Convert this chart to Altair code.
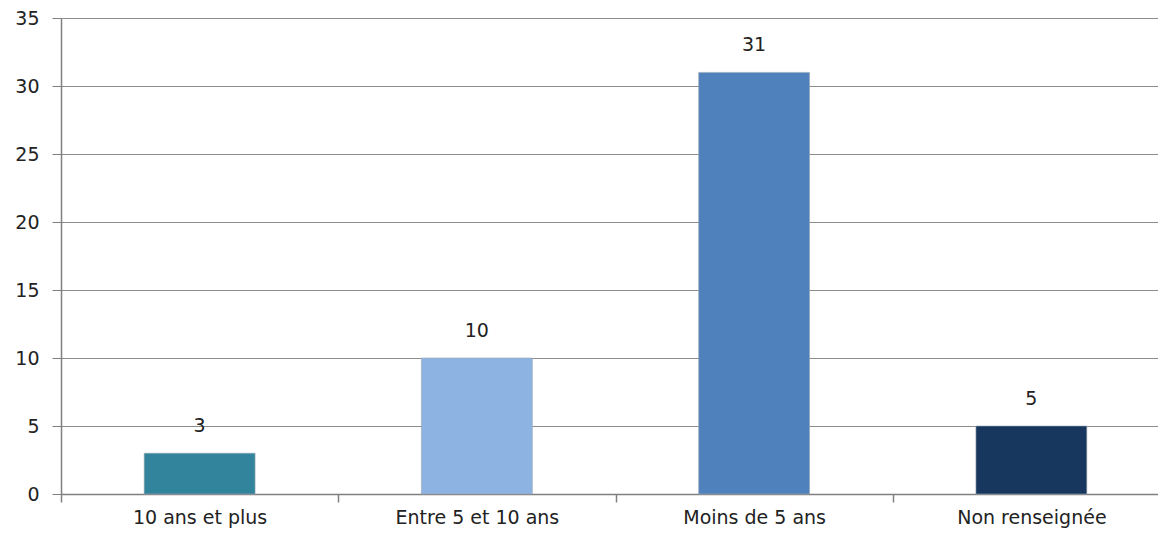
import altair as alt
import pandas as pd

categories = ["10 ans et plus", "Entre 5 et 10 ans", "Moins de 5 ans", "Non renseignée"]
values = [3, 10, 31, 5]
colors = ["#31849B", "#8DB3E2", "#4F81BD", "#17375E"]

df = pd.DataFrame({"cat": categories, "val": values, "col": colors})

FONT = "DejaVu Sans"
FS = 19

x = alt.X("cat:N", sort=categories, title=None,
          scale=alt.Scale(paddingInner=0, paddingOuter=0, range=[0, 1109]),
          axis=alt.Axis(labelAngle=0, labelFontSize=FS, labelFont=FONT, labelColor="#222",
                        tickBand="extent", tickSize=8, tickColor="#808080", domainColor="#808080",
                        tickWidth=1.5, labelPadding=6, grid=False))
y = alt.Y("val:Q", title=None,
          scale=alt.Scale(domain=[0, 35]),
          axis=alt.Axis(values=[0, 5, 10, 15, 20, 25, 30, 35], labelFontSize=FS, labelFont=FONT,
                        labelColor="#222", tickSize=9, tickColor="#808080", domainColor="#808080",
                        gridColor="#8c8c8c", labelPadding=13))

bars = alt.Chart(df).mark_bar(stroke="#9aa6b2", strokeWidth=0.6,
                              width=alt.RelativeBandSize(0.4)).encode(
    x=x, y=y, color=alt.Color("col:N", scale=None))

text = alt.Chart(df).mark_text(dy=-27, fontSize=FS, font=FONT, color="#222", baseline="middle").encode(
    x=alt.X("cat:N", sort=categories), y="val:Q", text="val:Q")

chart = (bars + text).properties(
    width=1097, height=476,
    padding={"left": 53, "top": 10, "right": 0, "bottom": 38},
    autosize=alt.AutoSizeParams(type="none"),
).configure_view(stroke=None).configure_axis(domainWidth=1.5)

chart.save("out.html", embed_options={"renderer": "svg", "actions": False})
